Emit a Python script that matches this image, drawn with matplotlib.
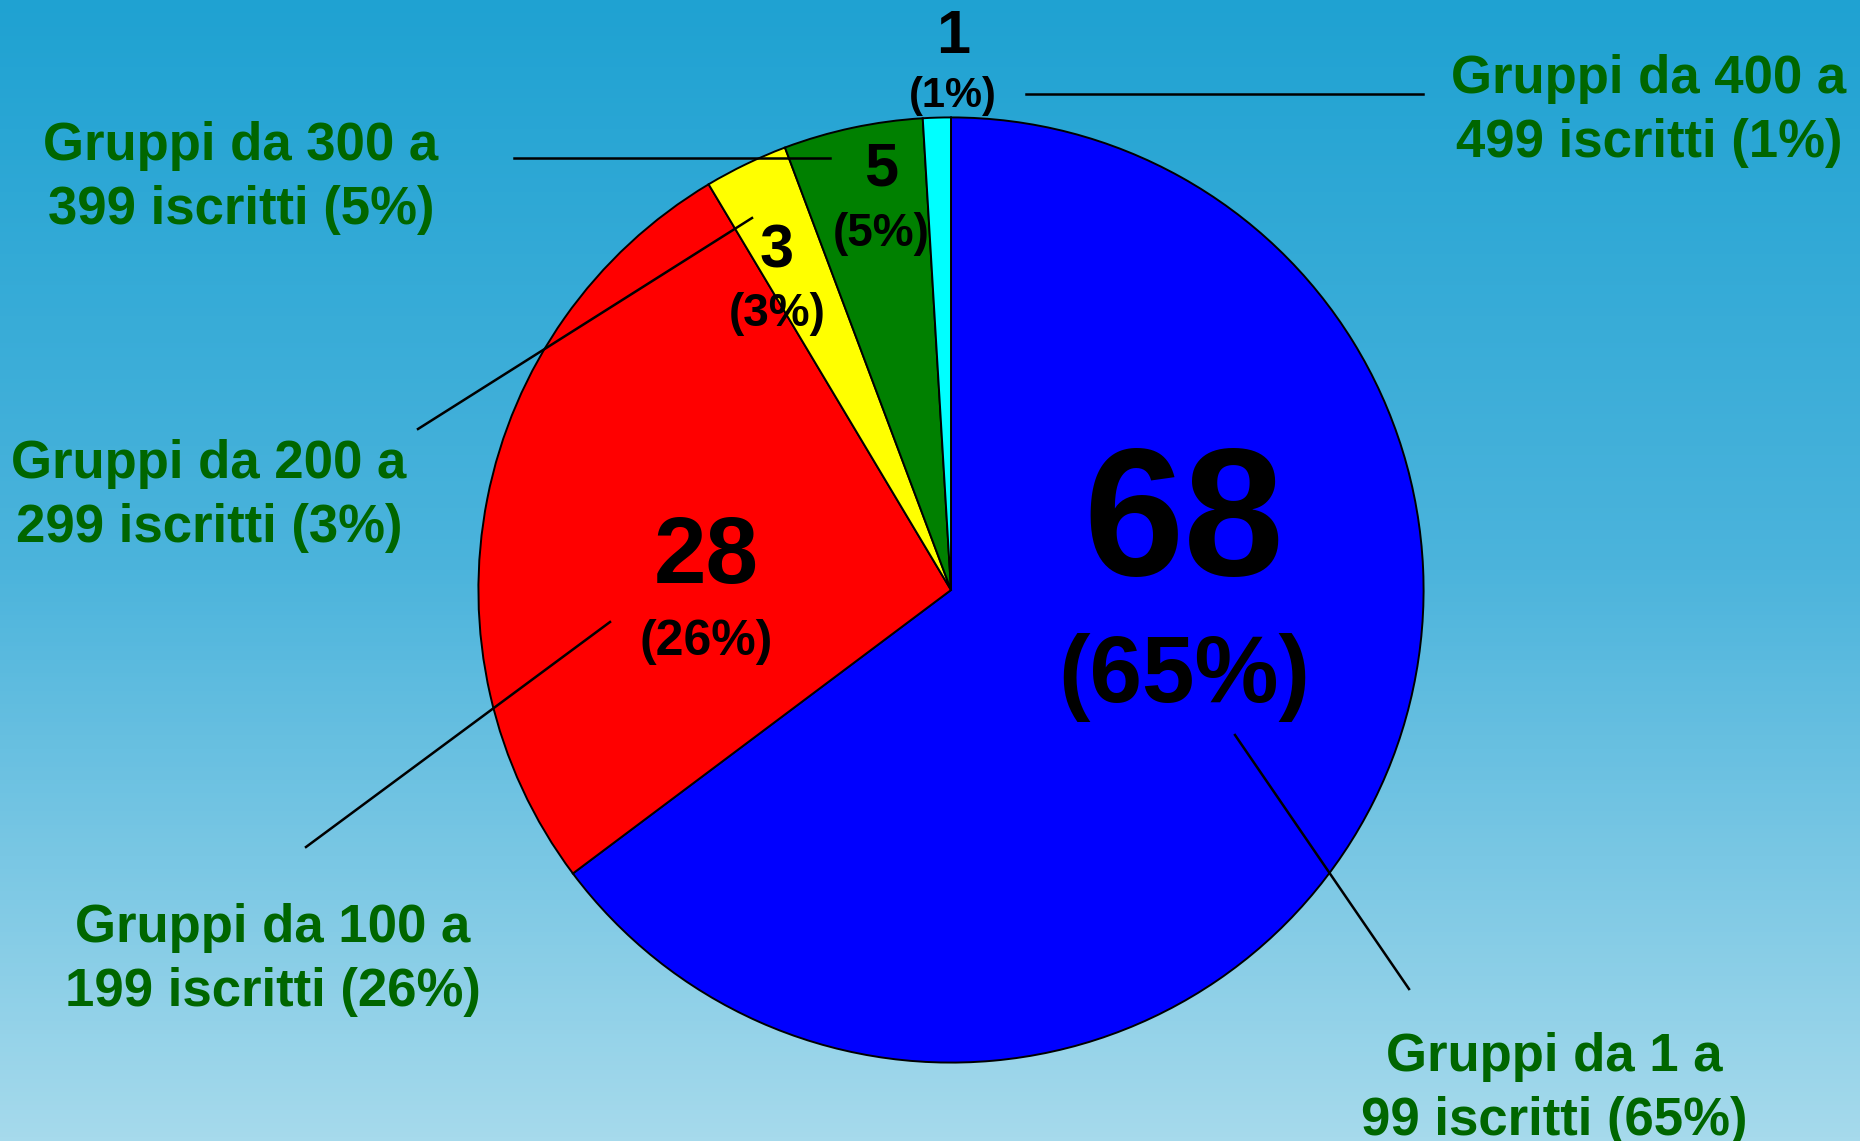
import numpy as np
import matplotlib
matplotlib.use("Agg")
import matplotlib.pyplot as plt
from matplotlib.colors import LinearSegmentedColormap

# data
counts = [68, 28, 3, 5, 1]
percents = [65, 26, 3, 5, 1]
ranges = [("1", "99"), ("100", "199"), ("200", "299"), ("300", "399"), ("400", "499")]
colors = ["#0000FF", "#FF0000", "#FFFF00", "#008000", "#00FFFF"]

W, H = 1860, 1141
fig = plt.figure(figsize=(W / 100, H / 100), dpi=100)
plt.rcParams['font.family'] = ['Liberation Sans', 'DejaVu Sans']

# background gradient
bg = fig.add_axes([0, 0, 1, 1])
cmap = LinearSegmentedColormap.from_list("bg", ["#1FA2D2", "#4CB4DC", "#A6DAEC"])
grad = np.linspace(0, 1, 256).reshape(-1, 1)
bg.imshow(grad, aspect="auto", cmap=cmap, extent=[0, 1, 0, 1], origin="upper")
bg.axis("off")

# pie: center (951, 590) px, radius 474 px
cx, cy, r = 951, 590, 474
ax = fig.add_axes([(cx - r) / W, (H - cy - r) / H, 2 * r / W, 2 * r / H])
ax.pie(counts, colors=colors, startangle=90, counterclock=False, radius=1,
       wedgeprops=dict(edgecolor="black", linewidth=1.4))
ax.set_xlim(-1.003, 1.003)
ax.set_ylim(-1.003, 1.003)
ax.axis("off")

# overlay in pixel coords for labels
ov = fig.add_axes([0, 0, 1, 1])
ov.set_xlim(0, W)
ov.set_ylim(H, 0)
ov.axis("off")

# value labels: (x, baseline of count, size, baseline of pct, size)
val_pos = [(1184, 575, 130, 702, 68),
           (706, 583, 68, 655, 36),
           (777, 267, 44, 326, 33),
           (881, 186, 44, 246, 33),
           (953, 53, 44, 107, 30)]
for c, p, (x, y1, s1, y2, s2) in zip(counts, percents, val_pos):
    ov.text(x, y1, str(c), ha="center", va="baseline", fontsize=s1,
            fontweight="bold", color="black")
    ov.text(x, y2, "(%d%%)" % p, ha="center", va="baseline", fontsize=s2,
            fontweight="bold", color="black")

# category labels, two lines each
lab_pos = [(1554, 1071), (273, 942), (209, 478), (241, 160), (1649, 93)]
gap = 64
for (lo, hi), p, (x, y) in zip(ranges, percents, lab_pos):
    ov.text(x, y, "Gruppi da %s a" % lo, ha="center", va="baseline",
            fontsize=38, fontweight="bold", color="#006600")
    ov.text(x, y + gap, "%s iscritti (%d%%)" % (hi, p), ha="center",
            va="baseline", fontsize=38, fontweight="bold", color="#006600")

# leader lines
leaders = [((1409, 989), (1235, 735)),
           ((306, 847), (610, 622)),
           ((418, 429), (752, 218)),
           ((514, 158), (830, 158)),
           ((1026, 94), (1423, 94))]
for (x0, y0), (x1, y1) in leaders:
    ov.plot([x0, x1], [y0, y1], color="black", linewidth=1.8)

fig.savefig("out.png", dpi=100)
